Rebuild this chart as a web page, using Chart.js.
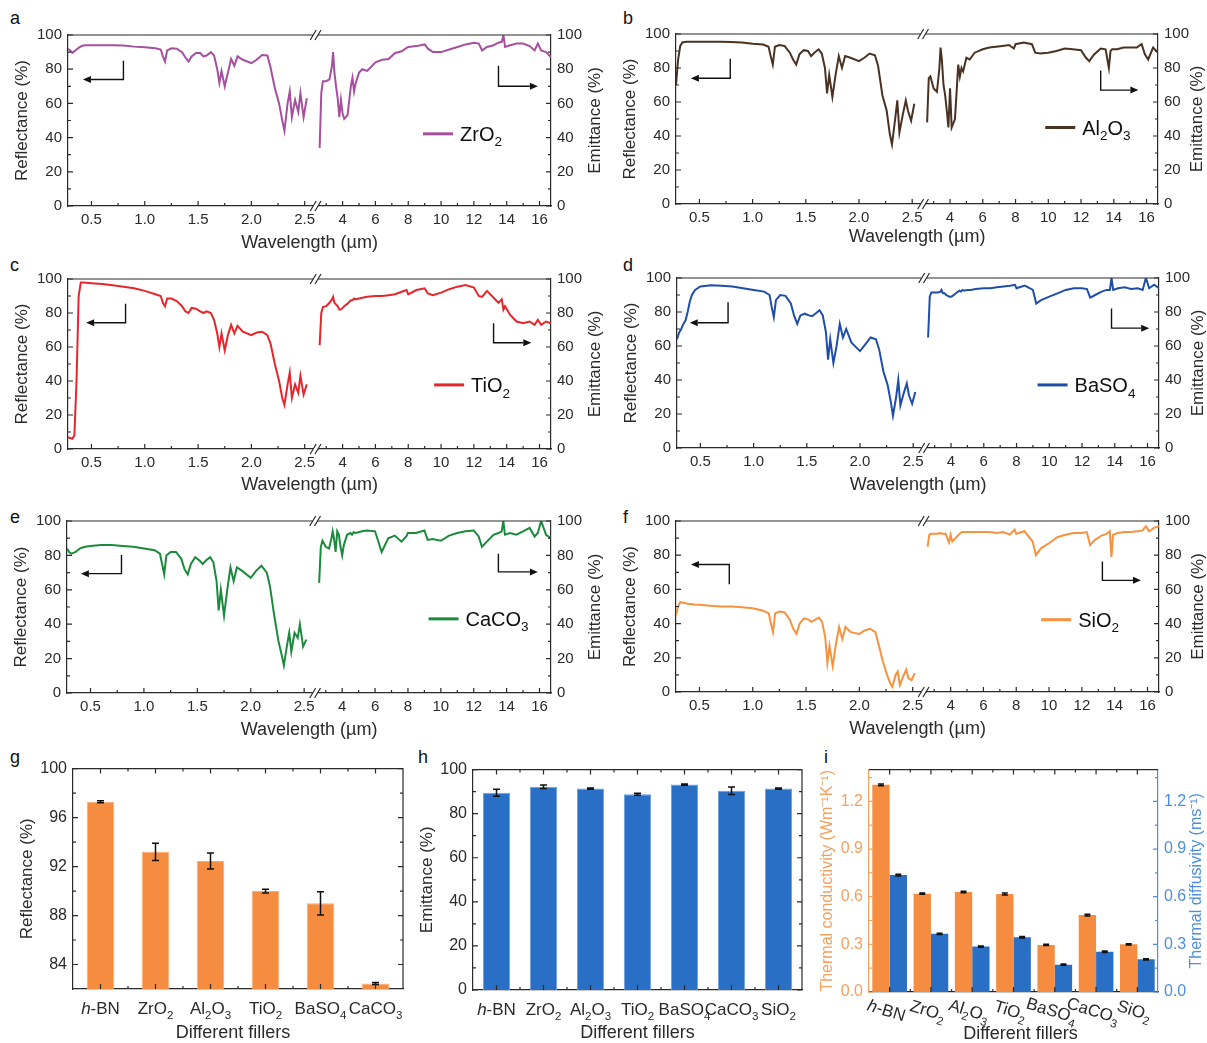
<!DOCTYPE html>
<html>
<head>
<meta charset="utf-8">
<script src="https://cdn.jsdelivr.net/npm/chart.js@4.4.1/dist/chart.umd.min.js"></script>
<style>
  body { margin: 0; background: #fff; width: 1207px; height: 1043px; position: relative; overflow: hidden;
         font-family: "Liberation Sans", Arial, sans-serif; }
  .pane { position: absolute; }
  .tag { position: absolute; font-size: 18px; line-height: 18px; color: #111; }
</style>
</head>
<body>
<div class="tag" style="left:10px;top:9px">a</div>
<div class="tag" style="left:623px;top:9px">b</div>
<div class="tag" style="left:10px;top:256px">c</div>
<div class="tag" style="left:623px;top:256px">d</div>
<div class="tag" style="left:10px;top:508px">e</div>
<div class="tag" style="left:623px;top:508px">f</div>
<div class="tag" style="left:10px;top:748px">g</div>
<div class="tag" style="left:418px;top:748px">h</div>
<div class="tag" style="left:824px;top:748px">i</div>

<script>
const FONT = '"Liberation Sans", Arial, sans-serif';
const INK = '#2a2a2a';

// ---- spectra: wavelength grids on each side of the axis break (µm) ----
const visWl = [
  0.28, 0.30, 0.32, 0.34, 0.36, 0.38, 0.40, 0.42, 0.45, 0.50,
  0.60, 0.70, 0.80, 0.90, 1.00, 1.10, 1.15, 1.17, 1.19, 1.21,
  1.25, 1.30, 1.35, 1.38, 1.41, 1.44, 1.48, 1.52, 1.55, 1.58,
  1.62, 1.65, 1.68, 1.70, 1.72, 1.75, 1.78, 1.81, 1.84, 1.87,
  1.92, 2.00, 2.05, 2.10, 2.15, 2.18, 2.22, 2.26, 2.29, 2.31,
  2.34, 2.36, 2.38, 2.41, 2.44, 2.46, 2.49, 2.52];
const irWl = [
  2.60, 2.70, 2.80, 3.00, 3.20, 3.35, 3.42, 3.50, 3.60, 3.70,
  3.80, 3.90, 4.00, 4.10, 4.30, 4.50, 4.60, 4.70, 4.80, 5.00,
  5.20, 5.50, 6.00, 6.40, 6.80, 7.20, 7.60, 7.90, 8.00, 8.50,
  9.00, 9.20, 9.50, 10.0, 10.5, 11.0, 11.5, 12.0, 12.3, 12.5,
  12.8, 13.2, 13.5, 13.7, 13.8, 13.9, 14.2, 14.6, 15.0, 15.4,
  15.7, 15.9, 16.1, 16.4, 16.7];

const visTicks = [0.5, 1.0, 1.5, 2.0, 2.5];
const visMinor = [0.75, 1.25, 1.75, 2.25];
const irTicks = [4, 6, 8, 10, 12, 14, 16];
const irMinor = [3, 5, 7, 9, 11, 13, 15];
const pctTicks = [0, 20, 40, 60, 80, 100];
const pctMinor = [10, 30, 50, 70, 90];
const visBreak = 2.58;

// reflectance (%) on visWl, emittance (%) on irWl
const zro2Refl = [
  92, 91, 89.5, 90.5, 91.5, 92.5, 93.3, 93.8, 94, 94,
  94, 94, 93.8, 93.2, 92.8, 92.3, 91.5, 87.5, 84.5, 91,
  92.2, 92, 90, 87, 84.5, 87.5, 89.5, 89.5, 87.5, 88,
  90, 88, 80, 72, 79, 70, 78, 86, 82, 87.5,
  85.5, 83.5, 85.5, 88.3, 88, 81, 69, 60, 50, 44,
  60, 67, 52, 62, 55, 66, 52, 63];
const zro2Emit = [
  34, 66, 73, 73, 74, 82, 90, 78, 70, 63,
  52, 62, 54, 51, 53, 70, 75, 67, 72, 78,
  80, 79, 84, 85.5, 86, 89.5, 90.5, 92.5, 93, 93.5,
  94.5, 92, 90, 90, 91.5, 93, 94.5, 95.5, 95, 91,
  93, 94, 95.5, 96, 100, 93, 94, 95, 95, 93.5,
  91, 95, 91, 90, 87];

const al2o3Refl = [
  70, 85, 93, 95, 95.3, 95.5, 95.5, 95.5, 95.5, 95.5,
  95.5, 95.5, 95.3, 95, 94.3, 93.8, 92.5, 87, 82, 92.5,
  93.5, 93, 89, 85, 82, 88, 90.5, 90, 87, 89,
  91, 88.5, 80, 65, 76, 63, 76, 87, 80, 87,
  86, 84, 86, 88.5, 87.5, 81, 64, 55, 41, 35,
  50, 61, 42, 52, 61, 55, 49, 59];
const al2o3Emit = [
  48, 74, 75, 68, 66, 80, 92, 85, 70, 64,
  55, 45, 68, 45, 50, 82, 75, 80, 78, 86,
  85, 89, 91, 92, 92.5, 93, 93.5, 91.5, 94, 95,
  94, 89, 88.5, 89, 90, 91.5, 91, 90.5, 86, 84,
  88, 91.5, 91, 80, 90, 91, 91, 92, 92, 92,
  94, 88, 85, 92, 89];

const tio2Refl = [
  7, 6.5, 6, 8, 40, 90, 98, 98, 97.8, 97.5,
  97, 96.3, 95.5, 94.5, 93, 91, 90, 86, 84, 88.5,
  88.5, 87, 84, 81, 80, 83, 82.5, 81, 80, 81,
  80, 76, 68, 60, 68, 58, 67, 73, 68, 72.5,
  69, 67, 68.5, 69, 67, 62, 50, 40, 30, 26,
  38, 45, 30, 38, 33, 43, 32, 38];
const tio2Emit = [
  61, 80, 83.5, 84, 86, 88, 89.5, 86, 85, 84,
  82, 82, 83, 84, 85.5, 87.5, 87.5, 88.5, 88, 88.5,
  89, 89.5, 90, 90, 90.5, 91, 92.5, 93.5, 91, 93.5,
  94.5, 91.5, 90.5, 92, 94, 95.5, 96.5, 95, 90, 89.5,
  93, 89, 86, 88, 82, 84, 79, 75, 74, 75,
  73, 76, 73, 75, 74];

const baso4Refl = [
  64, 68, 70, 73, 75, 80, 86, 90, 93, 95,
  95.8, 95.5, 95, 94, 93, 92, 90, 83, 77, 87,
  90, 89.5, 85, 78, 73, 78, 79, 78, 77.5, 79,
  81, 78, 68, 52, 64, 50, 60, 73, 65, 70,
  62, 57, 61, 65, 64, 58, 45, 37, 27, 19,
  30, 40, 25, 32, 38, 31, 26, 33];
const baso4Emit = [
  65, 89, 91.5, 91.5, 91.5, 92, 93, 91, 91, 90,
  89.5, 89, 89, 89.5, 91, 92.5, 92, 93, 92.5, 93,
  93, 93.5, 94, 94, 94.5, 95, 95.5, 96, 94, 95.5,
  93, 85, 87, 89, 91, 93, 94, 94, 93.5, 88.5,
  90, 92, 93, 93, 100, 93, 94, 94.5, 93.5, 94,
  93, 100, 94, 96, 94];

const caco3Refl = [
  84, 82, 81, 81.5, 82, 83, 84, 84.5, 85, 85.5,
  86, 86, 85.5, 85, 84, 83, 81, 75, 69, 80,
  82, 82, 78, 72, 69, 75, 79, 77, 75, 77,
  79, 76, 65, 48, 60, 45, 60, 73, 65, 73,
  71, 67, 71, 74, 70, 62, 45, 30, 22, 16,
  28, 35, 24, 35, 32, 40, 27, 31];
const caco3Emit = [
  64, 85, 88.5, 85, 84, 90, 94, 90, 82, 94,
  92, 85, 80, 86, 92, 93, 92, 93.5, 93, 93.5,
  94, 94.5, 94, 82, 90, 91.5, 88, 91, 93, 93,
  94.5, 89, 89.5, 88.5, 91.5, 93, 94, 94.5, 91, 85,
  88, 92, 93, 94, 100, 92, 93, 92, 94, 96,
  91, 93, 100, 92, 90];

const sio2Refl = [
  45, 50, 52.5, 52.3, 52, 51.8, 51.5, 51.4, 51.2, 51,
  50.5, 50, 50, 49.5, 49, 47.5, 46, 40, 35, 46,
  47, 46.5, 42, 37, 34, 40, 43, 42.5, 41, 42,
  43.5, 41, 32, 17, 27, 15, 28, 38, 31, 38,
  35, 34, 36, 37, 35, 28, 18, 10, 5, 3,
  10, 12, 4, 9, 13, 8, 7, 11];
const sio2Emit = [
  85, 92, 92.5, 92.5, 92.5, 93, 92.5, 92.5, 92.5, 92.5,
  90, 87.5, 92, 88, 90, 92, 93, 93.5, 93.5, 93.5,
  93.5, 93.5, 93.5, 93.5, 93, 93.5, 92, 95, 92.5, 94,
  88, 80, 84, 87, 90.5, 92, 93, 93, 93.5, 86,
  89, 91.5, 92.5, 94, 79, 92, 93, 93.5, 93.5, 94,
  94.5, 97, 94, 96, 97];

// ---- bar panels ----
const fillers = ['h-BN', 'ZrO2', 'Al2O3', 'TiO2', 'BaSO4', 'CaCO3', 'SiO2'];
const reflMean = [97.3, 93.2, 92.45, 90.0, 89.0, 82.45];
const reflErr = [0.08, 0.7, 0.65, 0.15, 0.95, 0.08];
const reflTicks = [84, 88, 92, 96, 100];
const reflMinor = [86, 90, 94, 98];
const emitMean = [89.5, 92.2, 91.4, 88.8, 93.2, 90.4, 91.4];
const emitErr = [1.6, 0.8, 0.3, 0.45, 0.3, 1.7, 0.3];
const condMean = [1.304, 0.619, 0.629, 0.617, 0.296, 0.484, 0.300];
const condErr = [0.006, 0.004, 0.005, 0.006, 0.004, 0.005, 0.004];
const diffMean = [0.736, 0.366, 0.286, 0.345, 0.172, 0.253, 0.206];
const diffErr = [0.005, 0.004, 0.004, 0.005, 0.004, 0.005, 0.004];
const thermTicks = [0, 0.3, 0.6, 0.9, 1.2];
const thermMinor = [0.15, 0.45, 0.75, 1.05, 1.35];

const ORANGE = '#f68c3f';
const BLUE = '#2a6fc6';

// ---------- helpers ----------
function makeCanvas(box, pad) {
  const c = document.createElement('canvas');
  c.width = box.w + pad.l + pad.r;
  c.height = box.h + pad.t + pad.b;
  c.className = 'pane';
  c.style.left = (box.x - pad.l) + 'px';
  c.style.top = (box.y - pad.t) + 'px';
  document.body.appendChild(c);
  return c;
}

// chemical formula: digits as subscripts, leading "h" italic
function chemRuns(label) {
  const runs = [];
  let rest = label;
  if (rest.startsWith('h-')) { runs.push({t: 'h', it: true}); rest = rest.slice(1); }
  rest.split(/(\d+)/).forEach((p, i) => { if (p) runs.push({t: p, sub: i % 2 === 1}); });
  return runs;
}
function drawChem(ctx, label, x, y, size, align, color) {
  const runs = chemRuns(label);
  const fontOf = r => (r.it ? 'italic ' : '') + (r.sub ? size * 0.68 : size) + 'px ' + FONT;
  let w = 0;
  runs.forEach(r => { ctx.font = fontOf(r); r.w = ctx.measureText(r.t).width; w += r.w; });
  let cx = align === 'center' ? x - w / 2 : (align === 'right' ? x - w : x);
  ctx.save();
  ctx.fillStyle = color || INK;
  ctx.textAlign = 'left';
  ctx.textBaseline = 'alphabetic';
  runs.forEach(r => {
    ctx.font = fontOf(r);
    ctx.fillText(r.t, cx, y + (r.sub ? size * 0.28 : 0));
    cx += r.w;
  });
  ctx.restore();
}
function vText(ctx, text, x, y, size, color) {
  ctx.save();
  ctx.translate(x, y);
  ctx.rotate(-Math.PI / 2);
  ctx.font = size + 'px ' + FONT;
  ctx.fillStyle = color || INK;
  ctx.textAlign = 'center';
  ctx.textBaseline = 'middle';
  ctx.fillText(text, 0, 0);
  ctx.restore();
}
function hText(ctx, text, x, y, size) {
  ctx.save();
  ctx.font = size + 'px ' + FONT;
  ctx.fillStyle = INK;
  ctx.textAlign = 'center';
  ctx.textBaseline = 'middle';
  ctx.fillText(text, x, y);
  ctx.restore();
}
// inward tick marks
function ticksIn(ctx, scale, values, len, side, a) {
  ctx.beginPath();
  values.forEach(v => {
    const p = scale.getPixelForValue(v);
    if (side === 'bottom') { ctx.moveTo(p, a.bottom); ctx.lineTo(p, a.bottom - len); }
    else if (side === 'top') { ctx.moveTo(p, a.top); ctx.lineTo(p, a.top + len); }
    else if (side === 'left') { ctx.moveTo(a.left, p); ctx.lineTo(a.left + len, p); }
    else { ctx.moveTo(a.right, p); ctx.lineTo(a.right - len, p); }
  });
  ctx.stroke();
}
function drawArrow(ctx, pts) {
  const n = pts.length;
  const [ex, ey] = pts[n - 1], [px, py] = pts[n - 2];
  const ang = Math.atan2(ey - py, ex - px);
  const hl = 8, hw = 3.5;
  ctx.save();
  ctx.strokeStyle = '#111';
  ctx.fillStyle = '#111';
  ctx.lineWidth = 1.4;
  ctx.beginPath();
  ctx.moveTo(pts[0][0], pts[0][1]);
  for (let i = 1; i < n - 1; i++) ctx.lineTo(pts[i][0], pts[i][1]);
  ctx.lineTo(ex - hl * Math.cos(ang), ey - hl * Math.sin(ang));
  ctx.stroke();
  ctx.translate(ex, ey);
  ctx.rotate(ang);
  ctx.beginPath();
  ctx.moveTo(0, 0); ctx.lineTo(-hl, -hw); ctx.lineTo(-hl, hw); ctx.closePath();
  ctx.fill();
  ctx.restore();
}

// error bars from dataset.errors
const errorBars = {
  id: 'errorBars',
  afterDatasetsDraw(chart) {
    const ctx = chart.ctx;
    chart.data.datasets.forEach((ds, di) => {
      if (!ds.errors) return;
      const meta = chart.getDatasetMeta(di);
      const ys = chart.scales[meta.yAxisID];
      ctx.save();
      ctx.strokeStyle = '#111';
      ctx.lineWidth = 1.5;
      meta.data.forEach((bar, i) => {
        const hi = ys.getPixelForValue(ds.data[i] + ds.errors[i]);
        const lo = ys.getPixelForValue(ds.data[i] - ds.errors[i]);
        const c = ds.cap;
        ctx.beginPath();
        ctx.moveTo(bar.x, hi); ctx.lineTo(bar.x, lo);
        ctx.moveTo(bar.x - c, hi); ctx.lineTo(bar.x + c, hi);
        ctx.moveTo(bar.x - c, lo); ctx.lineTo(bar.x + c, lo);
        ctx.stroke();
      });
      ctx.restore();
    });
  }
};

// ---------- spectra panels ----------
function spectrumDecor(sp) {
  return {
    id: 'spectrumDecor',
    afterDraw(chart) {
      const {ctx, chartArea: a} = chart;
      const {x1, x2, y, y2} = chart.scales;
      ctx.save();
      ctx.strokeStyle = INK;
      ctx.lineWidth = 1.2;
      ctx.beginPath(); ctx.moveTo(a.left, a.top); ctx.lineTo(a.right, a.top); ctx.stroke();
      ticksIn(ctx, x1, visTicks, 5, 'bottom', a);
      ticksIn(ctx, x1, visMinor, 3, 'bottom', a);
      ticksIn(ctx, x2, irTicks, 5, 'bottom', a);
      ticksIn(ctx, x2, irMinor, 3, 'bottom', a);
      ticksIn(ctx, y, pctTicks, 5, 'left', a);
      ticksIn(ctx, y, pctMinor, 3, 'left', a);
      ticksIn(ctx, y2, pctTicks, 5, 'right', a);
      ticksIn(ctx, y2, pctMinor, 3, 'right', a);
      // axis break
      const g0 = x1.getPixelForValue(visBreak), g1 = x2.left;
      ctx.fillStyle = '#fff';
      [a.top, a.bottom].forEach(yy => {
        ctx.fillRect(g0, yy - 3, g1 - g0, 6);
        ctx.beginPath();
        [g0, g1].forEach(gx => { ctx.moveTo(gx - 3, yy + 5); ctx.lineTo(gx + 3, yy - 5); });
        ctx.stroke();
      });
      ctx.restore();

      drawArrow(ctx, sp.arrowL.map(([u, v]) => [x1.getPixelForValue(u), y.getPixelForValue(v)]));
      drawArrow(ctx, sp.arrowR.map(([u, v]) => [x2.getPixelForValue(u), y2.getPixelForValue(v)]));

      // legend
      const lx = a.left + sp.legend[0] * a.width, ly = a.top + sp.legend[1] * a.height;
      ctx.save();
      ctx.strokeStyle = sp.color;
      ctx.lineWidth = 3;
      ctx.beginPath(); ctx.moveTo(lx, ly); ctx.lineTo(lx + 30, ly); ctx.stroke();
      ctx.restore();
      drawChem(ctx, sp.name, lx + 37, ly + 7, 20, 'left', '#111');

      vText(ctx, 'Reflectance (%)', a.left - 46, (a.top + a.bottom) / 2, 17);
      vText(ctx, 'Emittance (%)', a.right + sp.offR, (a.top + a.bottom) / 2, 17);
      hText(ctx, 'Wavelength (\u00b5m)', (a.left + a.right) / 2, a.bottom + sp.xtDy, 18);
    }
  };
}

function wlAxis(min, max, weight, ticks, digits) {
  return {
    type: 'linear', position: 'bottom', stack: 'wl', stackWeight: weight, min: min, max: max,
    afterBuildTicks: s => { s.ticks = ticks.map(v => ({value: v})); },
    afterFit: s => { s.height = 50; },
    grid: {display: false, drawTicks: false},
    border: {color: INK, width: 1.2},
    ticks: {font: {family: FONT, size: 15}, color: INK, padding: 5, maxRotation: 0, autoSkip: false,
            callback: v => v.toFixed(digits)}
  };
}
function pctAxis(pos, width) {
  return {
    type: 'linear', position: pos, min: 0, max: 100,
    afterBuildTicks: s => { s.ticks = pctTicks.map(v => ({value: v})); },
    afterFit: s => { s.width = width; },
    grid: {display: false, drawTicks: false},
    border: {color: INK, width: 1.2},
    ticks: {font: {family: FONT, size: 15}, color: INK, padding: 6}
  };
}

function spectrum(box, sp) {
  const canvas = makeCanvas(box, {l: 58, r: sp.r, t: 10, b: 50});
  new Chart(canvas, {
    type: 'line',
    data: {
      datasets: [
        {data: visWl.map((x, i) => ({x: x, y: sp.refl[i]})), xAxisID: 'x1', yAxisID: 'y', borderColor: sp.color},
        {data: irWl.map((x, i) => ({x: x, y: sp.emit[i]})), xAxisID: 'x2', yAxisID: 'y2', borderColor: sp.color}
      ]
    },
    options: {
      animation: false, responsive: false, devicePixelRatio: 1,
      layout: {padding: {top: 10}},
      elements: {point: {radius: 0}, line: {borderWidth: 2, tension: 0}},
      plugins: {legend: {display: false}, tooltip: {enabled: false}},
      scales: {
        x1: wlAxis(0.28, 2.625, 250, visTicks, 1),
        x2: wlAxis(2.5, 16.7, 233, irTicks, 0),
        y: pctAxis('left', 58),
        y2: pctAxis('right', sp.r)
      }
    },
    plugins: [spectrumDecor(sp)]
  });
}

spectrum({x: 68, y: 30, w: 483, h: 176}, {
  name: 'ZrO2', color: '#a64f9f', refl: zro2Refl, emit: zro2Emit, legend: [0.735, 0.578], xtDy: 37, r: 56, offR: 44,
  arrowL: [[0.8, 85], [0.8, 74], [0.42, 74]], arrowR: [[13.5, 82], [13.5, 70], [15.9, 70]]
});
spectrum({x: 676, y: 29, w: 482, h: 175}, {
  name: 'Al2O3', color: '#4a3222', refl: al2o3Refl, emit: al2o3Emit, legend: [0.766, 0.55], xtDy: 33, r: 48, offR: 39,
  arrowL: [[0.79, 85.5], [0.79, 74], [0.42, 74]], arrowR: [[13.2, 78.5], [13.2, 67], [15.5, 67]]
});
spectrum({x: 68, y: 274, w: 483, h: 175}, {
  name: 'TiO2', color: '#e5262b', refl: tio2Refl, emit: tio2Emit, legend: [0.758, 0.623], xtDy: 36, r: 56, offR: 44,
  arrowL: [[0.82, 85.5], [0.82, 74.3], [0.45, 74.3]], arrowR: [[13.2, 74], [13.2, 62.5], [15.5, 62.5]]
});
spectrum({x: 677, y: 273, w: 482, h: 175}, {
  name: 'BaSO4', color: '#1f4ea8', refl: baso4Refl, emit: baso4Emit, legend: [0.748, 0.629], xtDy: 37, r: 48, offR: 39,
  arrowL: [[0.76, 85.7], [0.76, 73.7], [0.40, 73.7]], arrowR: [[13.8, 82], [13.8, 70.5], [16.1, 70.5]]
});
spectrum({x: 67, y: 516, w: 484, h: 177}, {
  name: 'CaCO3', color: '#1b8a3c', refl: caco3Refl, emit: caco3Emit, legend: [0.747, 0.569], xtDy: 37, r: 56, offR: 44,
  arrowL: [[0.79, 80.3], [0.79, 69.4], [0.41, 69.4]], arrowR: [[13.5, 81], [13.5, 70.4], [15.9, 70.4]]
});
spectrum({x: 676, y: 516, w: 483, h: 176}, {
  name: 'SiO2', color: '#f7923f', refl: sio2Refl, emit: sio2Emit, legend: [0.756, 0.577], xtDy: 37, r: 48, offR: 39,
  arrowL: [[0.78, 63], [0.78, 74.6], [0.42, 74.6]], arrowR: [[13.25, 76.3], [13.25, 65.3], [15.6, 65.3]]
});

// ---------- bar panels ----------
function barDecor(p) {
  return {
    id: 'barDecor',
    afterDraw(chart) {
      const {ctx, chartArea: a, scales} = chart;
      const x = scales.x, y = scales.y, yr = scales.y2 || scales.y;
      const cats = p.labels.map((_, i) => i);
      const bounds = cats.slice(1).map(i => i - 0.5);
      ctx.save();
      ctx.lineWidth = 1.2;
      ctx.strokeStyle = INK;
      ctx.beginPath(); ctx.moveTo(a.left, a.top); ctx.lineTo(a.right, a.top);
      if (!scales.y2) ctx.lineTo(a.right, a.bottom);
      ctx.stroke();
      ticksIn(ctx, x, cats, 5, 'bottom', a);
      ticksIn(ctx, x, bounds, 3, 'bottom', a);
      ticksIn(ctx, x, cats, 5, 'top', a);
      ticksIn(ctx, x, bounds, 3, 'top', a);
      ctx.strokeStyle = p.colorL || INK;
      ticksIn(ctx, y, p.major, 5, 'left', a);
      ticksIn(ctx, y, p.minor, 3, 'left', a);
      ctx.strokeStyle = p.colorR || INK;
      ticksIn(ctx, yr, p.major, 5, 'right', a);
      ticksIn(ctx, yr, p.minor, 3, 'right', a);
      ctx.restore();

      p.labels.forEach((lab, i) => {
        const px = x.getPixelForValue(i);
        if (p.rotate) {
          ctx.save();
          ctx.translate(px - 3, a.bottom + 18);
          ctx.rotate(p.rotate);
          drawChem(ctx, lab, 0, 6, 17, 'center');
          ctx.restore();
        } else {
          drawChem(ctx, lab, px, a.bottom + 25, 17, 'center');
        }
      });
      vText(ctx, p.titleL, a.left - p.offL, (a.top + a.bottom) / 2, p.titleSize, p.colorL);
      if (p.titleR) vText(ctx, p.titleR, a.right + p.offR, (a.top + a.bottom) / 2, p.titleSize, p.colorR);
      hText(ctx, 'Different fillers', (a.left + a.right) / 2 + (p.xtDx || 0), a.bottom + p.xtDy, 18);
    }
  };
}

function valueAxis(pos, min, max, ticks, width, color, digits) {
  return {
    type: 'linear', position: pos, min: min, max: max,
    afterBuildTicks: s => { s.ticks = ticks.map(v => ({value: v})); },
    afterFit: s => { s.width = width; },
    grid: {display: false, drawTicks: false},
    border: {color: color, width: 1.2},
    ticks: {font: {family: FONT, size: 16}, color: color, padding: 6,
            callback: v => (digits ? v.toFixed(digits) : String(v))}
  };
}
function catAxis(labels) {
  return {
    type: 'category', labels: labels,
    afterFit: s => { s.height = 52; },
    grid: {display: false, drawTicks: false},
    ticks: {display: false},
    border: {color: INK, width: 1.2}
  };
}
const barBase = {
  animation: false, responsive: false, devicePixelRatio: 1,
  plugins: {legend: {display: false}, tooltip: {enabled: false}}
};

// g: reflectance
new Chart(makeCanvas({x: 73, y: 763, w: 330, h: 226}, {l: 58, r: 14, t: 10, b: 52}), {
  type: 'bar',
  data: {
    labels: fillers.slice(0, 6),
    datasets: [{data: reflMean, errors: reflErr, cap: 3.5, backgroundColor: ORANGE,
                borderColor: '#f8ad76', borderWidth: 1, barPercentage: 0.5, categoryPercentage: 1}]
  },
  options: Object.assign({}, barBase, {
    layout: {padding: {top: 10, right: 14}},
    scales: {x: catAxis(fillers.slice(0, 6)), y: valueAxis('left', 82, 100, reflTicks, 58, INK, 0)}
  }),
  plugins: [errorBars, barDecor({labels: fillers.slice(0, 6), major: reflTicks, minor: reflMinor,
            titleL: 'Reflectance (%)', offL: 46, titleSize: 17, xtDy: 44, xtDx: -5})]
});

// h: emittance
new Chart(makeCanvas({x: 473, y: 764, w: 329, h: 226}, {l: 58, r: 14, t: 10, b: 52}), {
  type: 'bar',
  data: {
    labels: fillers,
    datasets: [{data: emitMean, errors: emitErr, cap: 3.5, backgroundColor: BLUE,
                borderColor: '#6e9fdc', borderWidth: 1, barPercentage: 0.58, categoryPercentage: 1}]
  },
  options: Object.assign({}, barBase, {
    layout: {padding: {top: 10, right: 14}},
    scales: {x: catAxis(fillers), y: valueAxis('left', 0, 100, pctTicks, 58, INK, 0)}
  }),
  plugins: [errorBars, barDecor({labels: fillers, major: pctTicks, minor: pctMinor,
            titleL: 'Emittance (%)', offL: 46, titleSize: 17, xtDy: 43})]
});

// i: thermal conductivity and diffusivity
new Chart(makeCanvas({x: 869, y: 764, w: 289, h: 228}, {l: 52, r: 48, t: 10, b: 52}), {
  type: 'bar',
  data: {
    labels: fillers,
    datasets: [
      {data: condMean, errors: condErr, cap: 3, backgroundColor: ORANGE, yAxisID: 'y',
       barPercentage: 1, categoryPercentage: 0.84},
      {data: diffMean, errors: diffErr, cap: 3, backgroundColor: BLUE, yAxisID: 'y2',
       barPercentage: 1, categoryPercentage: 0.84}
    ]
  },
  options: Object.assign({}, barBase, {
    layout: {padding: {top: 10}},
    scales: {
      x: catAxis(fillers),
      y: valueAxis('left', 0, 1.4, thermTicks, 52, '#f5a05e', 1),
      y2: valueAxis('right', 0, 1.4, thermTicks, 48, '#4f8fd9', 1)
    }
  }),
  plugins: [errorBars, barDecor({labels: fillers, major: thermTicks, minor: thermMinor, rotate: 0.3,
            colorL: '#f5a05e', colorR: '#4f8fd9',
            titleL: 'Thermal conductivity (Wm\u207b\u00b9K\u207b\u00b9)', titleR: 'Thermal diffusivity (ms\u207b\u00b9)',
            offL: 41, offR: 39, titleSize: 16, xtDy: 42, xtDx: 7})]
});
</script>
</body>
</html>
